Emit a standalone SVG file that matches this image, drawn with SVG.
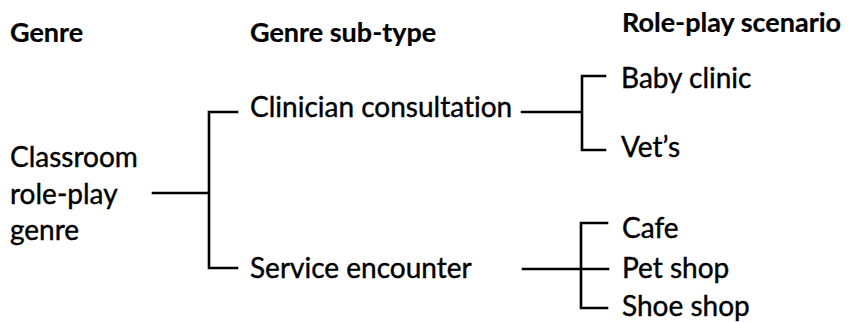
<svg xmlns="http://www.w3.org/2000/svg" width="853" height="322" viewBox="0 0 853 322">
<style>
text{font-family:Lato,"Open Sans","Liberation Sans",sans-serif;font-size:28px;fill:#000;stroke:#000;stroke-width:0.4;font-variant-ligatures:none}
.h{font-weight:bold;font-size:27px;stroke-width:0.2}
.c{fill:none;stroke:#000;stroke-width:2.6;stroke-linecap:square}
</style>
<rect width="853" height="322" fill="#fff"/>
<g id="headers">
<text class="h" x="10" y="42">Genre</text>
<text class="h" x="250" y="42">Genre sub-type</text>
<text class="h" x="622" y="32">Role-play scenario</text>
</g>
<g id="classroom"><text x="10" y="167">Classroom</text><text x="10" y="204">role-play</text><text x="10" y="240">genre</text></g>
<g id="clinician"><text x="250" y="117">Clinician consultation</text></g>
<g id="service"><text x="250" y="278">Service encounter</text></g>
<g id="baby"><text x="621" y="88">Baby clinic</text></g>
<g id="vets"><text x="621" y="157">Vet’s</text></g>
<g id="cafe"><text x="622" y="238">Cafe</text></g>
<g id="petshop"><text x="622" y="278">Pet shop</text></g>
<g id="shoeshop"><text x="622" y="316">Shoe shop</text></g>
<g id="connectors">
<path class="c" d="M153,193H209M237,112H209V268H237"/>
<path class="c" d="M522,112H582M605,76H582V150H605"/>
<path class="c" d="M523,269H608M607,223H581V308H607"/>
</g>
</svg>
